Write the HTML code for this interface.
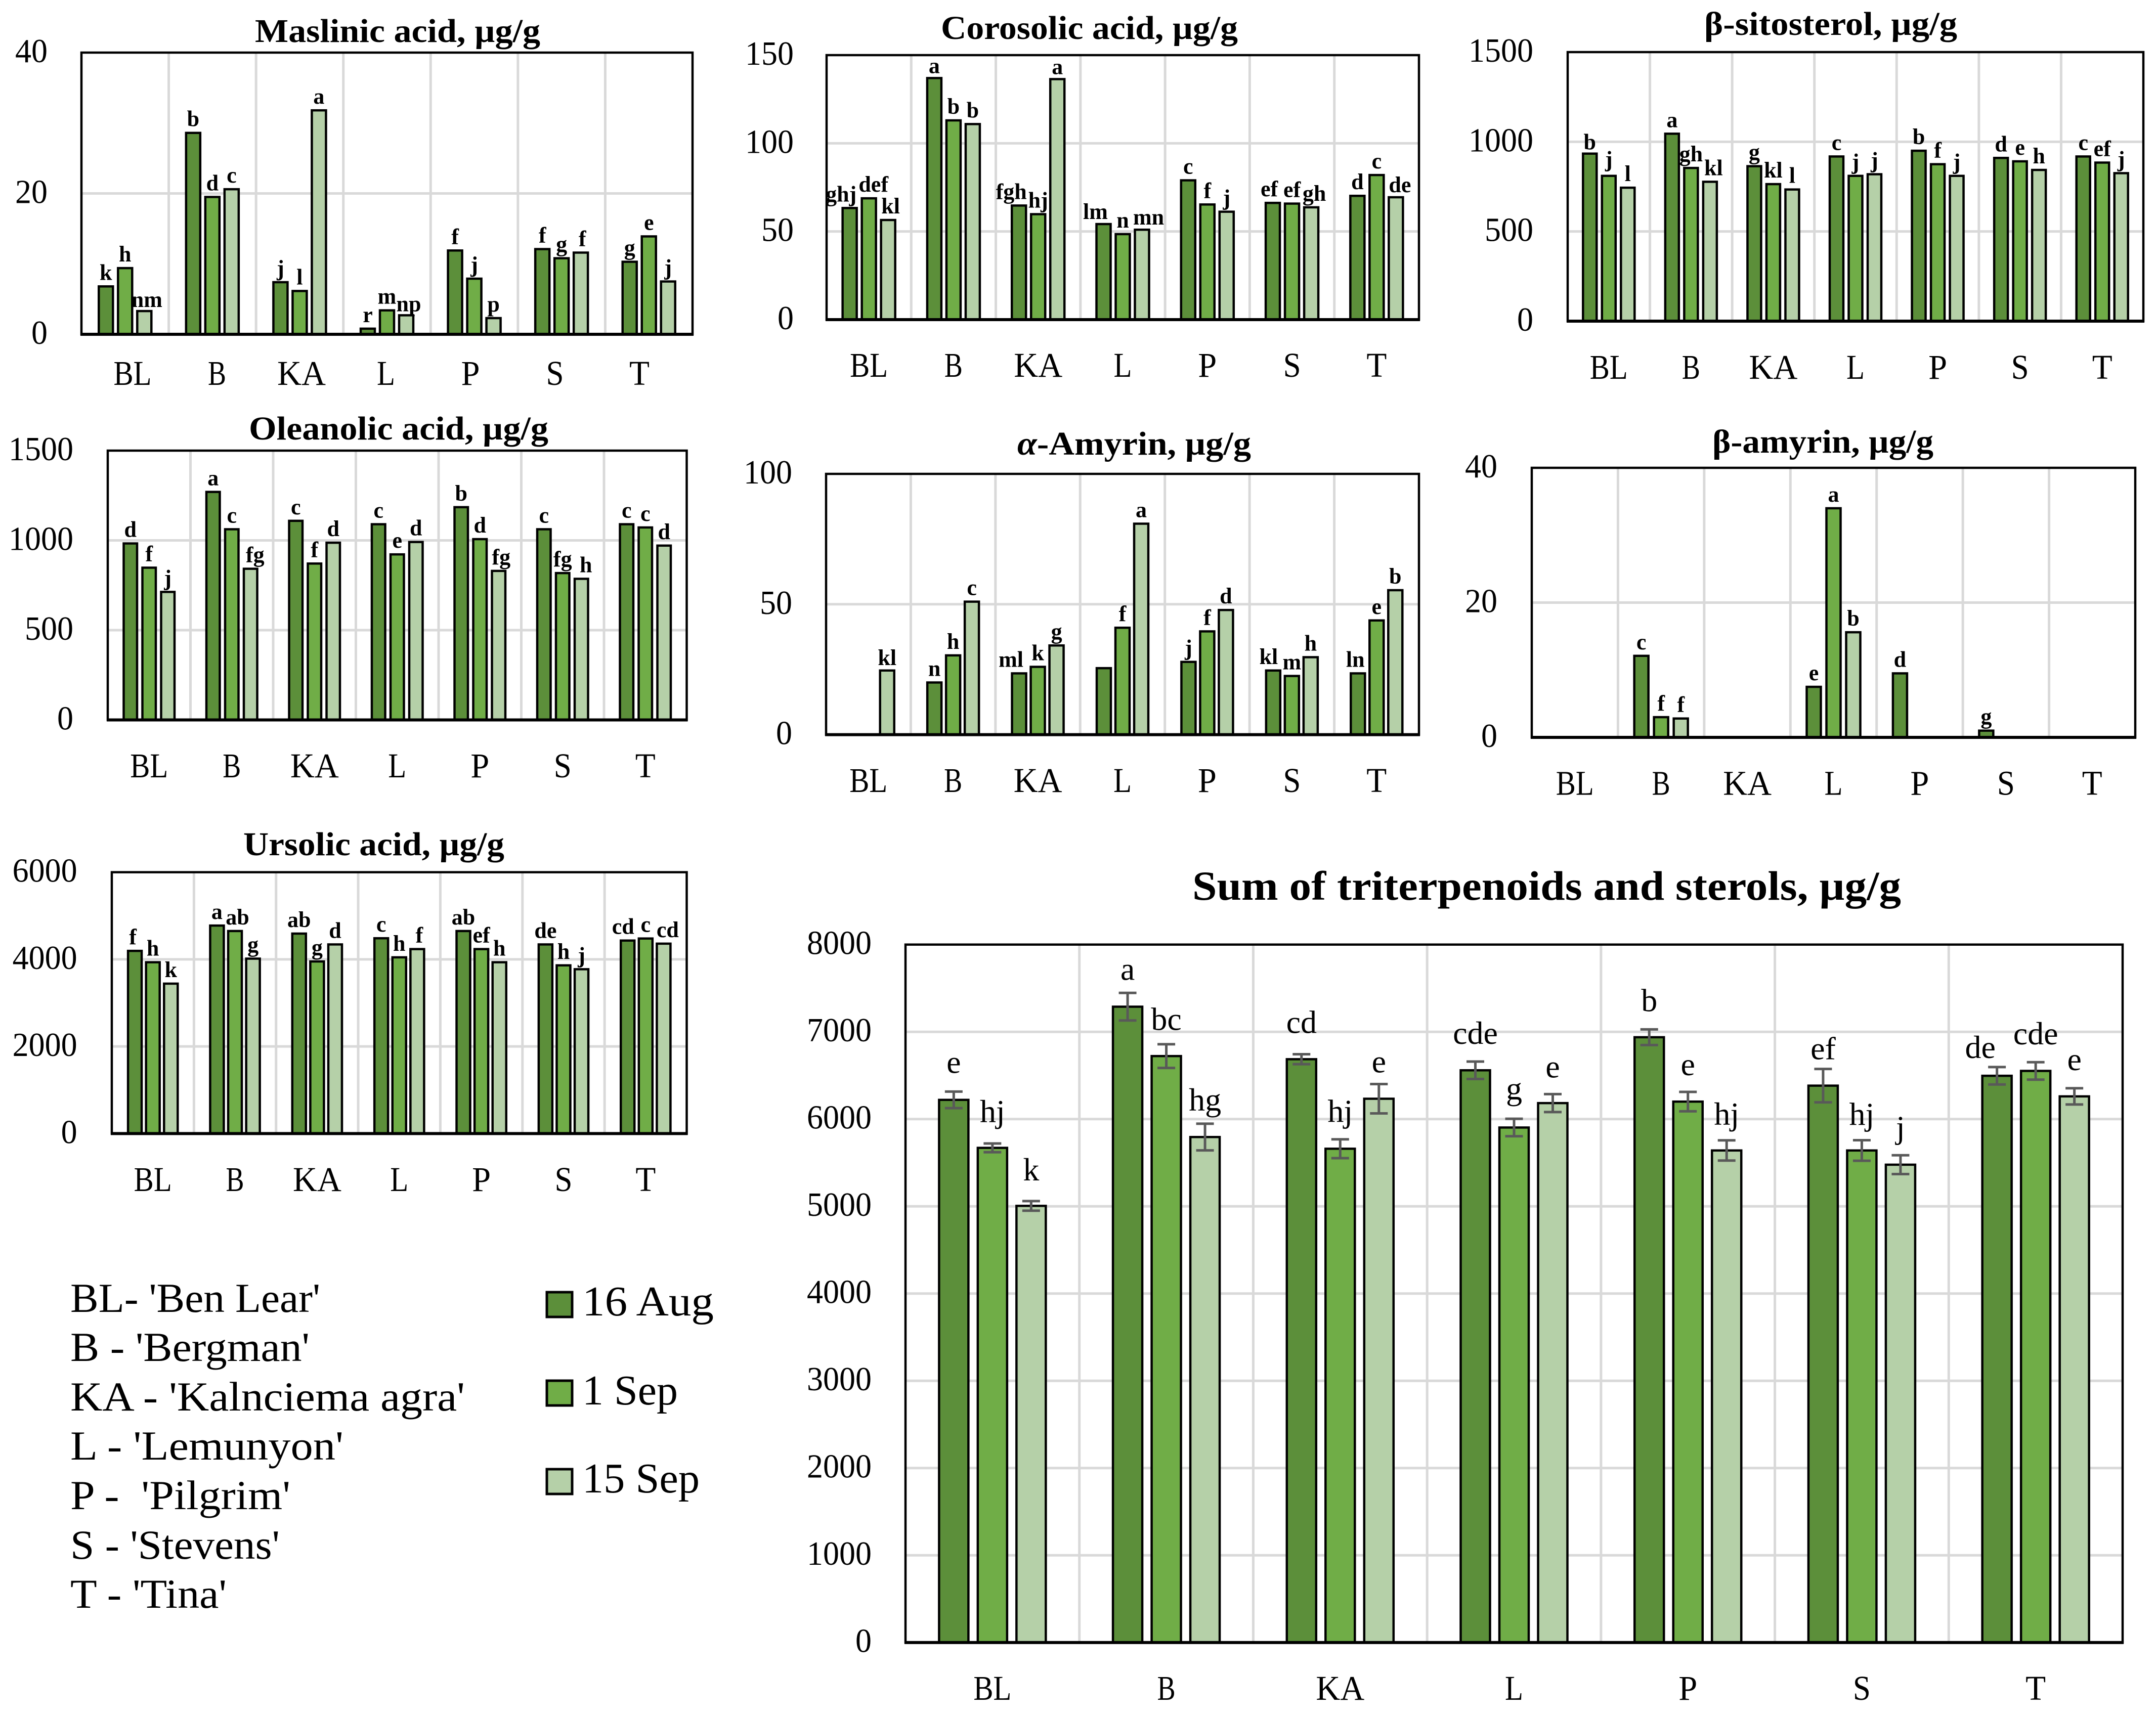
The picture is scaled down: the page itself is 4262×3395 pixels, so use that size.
<!DOCTYPE html>
<html lang="en">
<head>
<meta charset="utf-8">
<title>Triterpenoids and sterols</title>
<style>
html,body{margin:0;padding:0;background:#fff;}
svg{display:block;font-family:"Liberation Serif","Noto Serif CJK SC",serif;}
</style>
</head>
<body>
<svg id="figure" xmlns="http://www.w3.org/2000/svg" width="4262" height="3395" viewBox="0 0 4262 3395">
  <rect x="0" y="0" width="4262" height="3395" fill="#ffffff"/>
  <g id="charts"></g>
  <g font-size="82" fill="#000">
    <text x="139" y="2594" textLength="494" lengthAdjust="spacingAndGlyphs">BL- 'Ben Lear'</text>
    <text x="139" y="2691" textLength="473" lengthAdjust="spacingAndGlyphs">B - 'Bergman'</text>
    <text x="139" y="2789" textLength="780" lengthAdjust="spacingAndGlyphs">KA - 'Kalnciema agra'</text>
    <text x="139" y="2886" textLength="540" lengthAdjust="spacingAndGlyphs">L - 'Lemunyon'</text>
    <text x="139" y="2984" textLength="435" lengthAdjust="spacingAndGlyphs" xml:space="preserve">P -  'Pilgrim'</text>
    <text x="139" y="3082" textLength="414" lengthAdjust="spacingAndGlyphs">S - 'Stevens'</text>
    <text x="139" y="3179" textLength="309" lengthAdjust="spacingAndGlyphs">T - 'Tina'</text>
  </g>
  <g font-size="84" fill="#000">
    <rect x="1081" y="2555" width="50" height="49" fill="#5C8F3A" stroke="#000" stroke-width="5"/>
    <text x="1151" y="2601" textLength="260" lengthAdjust="spacingAndGlyphs">16 Aug</text>
    <rect x="1081" y="2730" width="50" height="49" fill="#70AD47" stroke="#000" stroke-width="5"/>
    <text x="1151" y="2777" textLength="189" lengthAdjust="spacingAndGlyphs">1 Sep</text>
    <rect x="1081" y="2905" width="50" height="49" fill="#B5D0A8" stroke="#000" stroke-width="5"/>
    <text x="1151" y="2951" textLength="232" lengthAdjust="spacingAndGlyphs">15 Sep</text>
  </g>
</svg>
<script>
const categories = ['BL','B','KA','L','P','S','T'];

const maslinicTicks = [0,20,40];
const maslinicAug = [6.8,28.6,7.4,0.8,11.9,12.1,10.3];
const maslinicSep1 = [9.4,19.5,6.15,3.4,7.9,10.8,13.9];
const maslinicSep15 = [3.3,20.6,31.8,2.7,2.3,11.6,7.5];
const maslinicLettersAug = ['k','b','j','r','f','f','g'];
const maslinicLettersSep1 = ['h','d','l','m','j','g','e'];
const maslinicLettersSep15 = ['nm','c','a','np','p','f','j'];

const corosolicTicks = [0,50,100,150];
const corosolicAug = [63.3,137,64.7,54.2,79,66.2,70.2];
const corosolicSep1 = [68.8,113,59.8,48.5,65.3,65.8,82];
const corosolicSep15 = [56.5,110.9,136.4,51,61.2,63.7,69.4];
const corosolicLettersAug = ['ghj','a','fgh','lm','c','ef','d'];
const corosolicLettersSep1 = ['def','b','hj','n','f','ef','c'];
const corosolicLettersSep15 = ['kl','b','a','mn','j','gh','de'];

const sitosterolTicks = [0,500,1000,1500];
const sitosterolAug = [934,1045,864,918,950,910,918];
const sitosterolSep1 = [810,854,764,810,875,891,884];
const sitosterolSep15 = [744,777,734,819,810,843,825];
const sitosterolLettersAug = ['b','a','g','c','b','d','c'];
const sitosterolLettersSep1 = ['j','gh','kl','j','f','e','ef'];
const sitosterolLettersSep15 = ['l','kl','l','j','j','h','j'];

const oleanolicTicks = [0,500,1000,1500];
const oleanolicAug = [983,1270,1109,1090,1185,1062,1090];
const oleanolicSep1 = [848,1062,871,922,1007,818,1072];
const oleanolicSep15 = [713,842,987,991,830,786,971];
const oleanolicLettersAug = ['d','a','c','c','b','c','c'];
const oleanolicLettersSep1 = ['f','c','f','e','d','fg','c'];
const oleanolicLettersSep15 = ['j','fg','d','d','fg','h','d'];

const alphaTicks = [0,50,100];
const alphaAug = [0,20,23.5,25.5,27.9,24.6,23.5];
const alphaSep1 = [0,30.4,26,41,39.6,22.5,43.8];
const alphaSep15 = [24.6,51,34.2,80.9,47.8,29.7,55.4];
const alphaLettersAug = ['','n','ml','','j','kl','ln'];
const alphaLettersSep1 = ['','h','k','f','f','m','e'];
const alphaLettersSep15 = ['kl','c','g','a','d','h','b'];

const betaTicks = [0,20,40];
const betaAug = [0,12.1,0,7.5,9.5,1,0];
const betaSep1 = [0,3,0,34,0,0,0];
const betaSep15 = [0,2.8,0,15.6,0,0,0];
const betaLettersAug = ['','c','','e','d','g',''];
const betaLettersSep1 = ['','f','','a','','',''];
const betaLettersSep15 = ['','f','','b','','',''];

const ursolicTicks = [0,2000,4000,6000];
const ursolicAug = [4194,4775,4591,4484,4650,4342,4431];
const ursolicSep1 = [3933,4650,3951,4046,4235,3862,4478];
const ursolicSep15 = [3442,4016,4342,4235,3933,3773,4360];
const ursolicLettersAug = ['f','a','ab','c','ab','de','cd'];
const ursolicLettersSep1 = ['h','ab','g','h','ef','h','c'];
const ursolicLettersSep15 = ['k','g','d','f','h','j','cd'];

const sumTicks = [0,1000,2000,3000,4000,5000,6000,7000,8000];
const sumAug = [6220,7288,6686,6559,6938,6383,6496];
const sumSep1 = [5670,6722,5660,5903,6200,5640,6552];
const sumSep15 = [5005,5794,6233,6183,5640,5477,6260];
const sumErrAug = [95,158,57,100,90,191,100];
const sumErrSep1 = [50,136,108,100,111,118,100];
const sumErrSep15 = [55,153,168,103,116,108,93];
const sumLettersAug = ['e','a','cd','cde','b','ef','de'];
const sumLettersSep1 = ['hj','bc','hj','g','e','hj','cde'];
const sumLettersSep15 = ['k','hg','e','e','hj','j','e'];

const seriesFills = ['#5C8F3A','#70AD47','#B5D0A8'];
const NS = 'http://www.w3.org/2000/svg';
const chartsRoot = document.getElementById('charts');

/* rendered ink widths of the category labels, layout only */
const categoryLabelInk = {BL:75,B:36,KA:96,L:36,P:37,S:35,T:40};

function make(tag, attrs, parent) {
  const node = document.createElementNS(NS, tag);
  for (const k in attrs) node.setAttribute(k, attrs[k]);
  parent.appendChild(node);
  return node;
}

const chartConfigs = [
  {id:'maslinic', pre:'', title:'Maslinic acid, µg/g', titleX:504, titleW:564, titleY:83,
   box:[161,1369,104,661], barW:28, pitch:38, axisMax:40, ticks:maslinicTicks,
   series:[maslinicAug,maslinicSep1,maslinicSep15],
   letters:[maslinicLettersAug,maslinicLettersSep1,maslinicLettersSep15],
   catBase:761, catStart:262, catStep:167, tickRight:94,
   nudges:{'0-2':[5,5],'3-2':[5,5],'5-2':[3,0]}},
  {id:'corosolic', pre:'', title:'Corosolic acid, µg/g', titleX:1860, titleW:587, titleY:77,
   box:[1634,2805,109,632], barW:28, pitch:38, axisMax:150, ticks:corosolicTicks,
   series:[corosolicAug,corosolicSep1,corosolicSep15],
   letters:[corosolicLettersAug,corosolicLettersSep1,corosolicLettersSep15],
   catBase:745, tickRight:1569,
   nudges:{'0-0':[-17,0],'0-1':[9,0],'0-2':[5,0],'1-0':[0,3],'2-2':[0,3],'2-0':[-15,0],'3-0':[-16,3],'3-2':[13,3],'5-0':[-7,0],'5-2':[6,0],'6-2':[8,3]}},
  {id:'sitosterol', pre:'', title:'β-sitosterol, µg/g', titleX:3369, titleW:500, titleY:69,
   box:[3099,4237,103,635], barW:27, pitch:37.5, axisMax:1500, ticks:sitosterolTicks,
   series:[sitosterolAug,sitosterolSep1,sitosterolSep15],
   letters:[sitosterolLettersAug,sitosterolLettersSep1,sitosterolLettersSep15],
   catBase:749, tickRight:3031,
   nudges:{'0-0':[0,5],'0-1':[0,-5],'1-2':[7,0]}},
  {id:'oleanolic', pre:'', title:'Oleanolic acid, µg/g', titleX:492, titleW:592, titleY:869,
   box:[213,1357.5,891,1423.5], barW:26.5, pitch:37, axisMax:1500, ticks:oleanolicTicks,
   series:[oleanolicAug,oleanolicSep1,oleanolicSep15],
   letters:[oleanolicLettersAug,oleanolicLettersSep1,oleanolicLettersSep15],
   catBase:1537, tickRight:145,
   nudges:{'1-2':[9,0],'4-2':[5,0],'5-2':[9,0]}},
  {id:'alpha-amyrin', pre:'α', title:'-Amyrin, µg/g', titleX:2011, titleW:462, titleY:899,
   box:[1633,2805,937,1452.6], barW:28, pitch:37, axisMax:100, ticks:alphaTicks,
   series:[alphaAug,alphaSep1,alphaSep15],
   letters:[alphaLettersAug,alphaLettersSep1,alphaLettersSep15],
   catBase:1566, tickRight:1566,
   nudges:{'0-2':[0,2],'2-0':[-16,0],'5-0':[-9,0],'6-0':[-5,0]}},
  {id:'beta-amyrin', pre:'', title:'β-amyrin, µg/g', titleX:3385, titleW:437, titleY:895,
   box:[3028,4221,925,1458], barW:28, pitch:39, axisMax:40, ticks:betaTicks,
   series:[betaAug,betaSep1,betaSep15],
   letters:[betaLettersAug,betaLettersSep1,betaLettersSep15],
   catBase:1571.5, tickRight:2960,
   nudges:{}},
  {id:'ursolic', pre:'', title:'Ursolic acid, µg/g', titleX:481, titleW:516, titleY:1691,
   box:[221,1357.5,1724.6,2241.4], barW:27, pitch:35.6, axisMax:6000, ticks:ursolicTicks,
   series:[ursolicAug,ursolicSep1,ursolicSep15],
   letters:[ursolicLettersAug,ursolicLettersSep1,ursolicLettersSep15],
   catBase:2355, tickRight:152.6,
   nudges:{'0-0':[-4,0],'1-1':[5,0],'3-2':[4,0],'6-0':[-9,0],'6-2':[8,0]}},
  {id:'sum', pre:'', title:'Sum of triterpenoids and sterols, µg/g', titleX:2357, titleW:1401, titleY:1779, titleSize:82,
   box:[1790,4196,1867.7,3247.7], barW:58, pitch:76.5, axisMax:8000, ticks:sumTicks,
   series:[sumAug,sumSep1,sumSep15], errors:[sumErrAug,sumErrSep1,sumErrSep15],
   letters:[sumLettersAug,sumLettersSep1,sumLettersSep15],
   catBase:3361, tickRight:1723, labelGap:34, labelSize:64, labelWeight:'normal',
   nudges:{'0-0':[0,-3],'0-1':[0,-8],'0-2':[0,-7],'1-0':[0,8],'1-1':[0,6],'1-2':[0,8],'2-0':[0,-8],'2-2':[0,11],
           '3-0':[0,-1],'3-1':[0,-4],'3-2':[0,1],'4-0':[0,-2],'4-1':[0,1],'4-2':[0,3],'5-0':[0,15],'5-1':[0,4],
           '6-0':[-33,16],'6-1':[0,-1],'6-2':[0,-2]}}
];

function drawChart(c) {
  const L = c.box[0], R = c.box[1], T = c.box[2], B = c.box[3];
  const band = (R - L) / categories.length;
  const xCenter = i => L + band * (i + 0.5);
  const yScale = v => B - (v / c.axisMax) * (B - T);

  const g = make('g', {}, chartsRoot);
  
  

  const title = make('text', {x:c.titleX, y:c.titleY, 'font-size':c.titleSize || 66, 'font-weight':'bold', fill:'#000',
    textLength:c.titleW, lengthAdjust:'spacingAndGlyphs'}, g);
  
  
  if (c.pre) {
    const it = make('tspan', {'font-style':'italic'}, title);
    it.textContent = c.pre;
    const rest = make('tspan', {}, title);
    rest.textContent = c.title;
  } else {
    title.textContent = c.title;
  }

  c.ticks.forEach(t => {
    const y = yScale(t);
    if (t > 0 && t < c.axisMax) {
      const gl = make('line', {x1:L, x2:R, y1:y, y2:y, stroke:'#D9D9D9', 'stroke-width':5}, g);
      
      
    }
    const lab = make('text', {x:c.tickRight, y:y + 19, 'font-size':67, 'text-anchor':'end', fill:'#000',
      textLength:String(t).length * 32, lengthAdjust:'spacingAndGlyphs'}, g);
    
    
    lab.textContent = t;
  });

  for (let i = 1; i < categories.length; i++) {
    const x = L + band * i;
    const vg = make('line', {x1:x, x2:x, y1:T, y2:B, stroke:'#D9D9D9', 'stroke-width':5}, g);
    
    
  }

  categories.forEach((cat, i) => {
    const cx = c.catStart !== undefined ? c.catStart + c.catStep * i : xCenter(i);
    const lab = make('text', {x:cx, y:c.catBase, 'font-size':69, 'text-anchor':'middle', fill:'#000',
      textLength:categoryLabelInk[cat], lengthAdjust:'spacingAndGlyphs'}, g);
    
    
    lab.textContent = cat;
  });

  c.series.forEach((values, s) => {
    values.forEach((v, i) => {
      if (!(v > 0)) return;
      const cx = xCenter(i) + (s - 1) * c.pitch;
      const y = yScale(v);
      const bar = make('rect', {x:cx - c.barW / 2, y:y, width:c.barW, height:B - y,
        fill:seriesFills[s], stroke:'#000', 'stroke-width':4.5}, g);
      
      
    });
  });

  let errTops = null;
  if (c.errors) {
    errTops = c.errors.map(() => []);
    c.errors.forEach((errs, s) => {
      errs.forEach((e, i) => {
        const v = c.series[s][i];
        const cx = xCenter(i) + (s - 1) * c.pitch;
        const yHi = yScale(v + e), yLo = yScale(v - e);
        errTops[s][i] = yHi;
        const cap = 17.5;
        const path = 'M' + (cx - cap) + ' ' + yHi + 'H' + (cx + cap) + 'M' + cx + ' ' + yHi + 'V' + yLo + 'M' + (cx - cap) + ' ' + yLo + 'H' + (cx + cap);
        const eb = make('path', {d:path, fill:'none', stroke:'#595959', 'stroke-width':5}, g);
        
        
      });
    });
  }

  const frame = make('rect', {x:L, y:T, width:R - L, height:B - T, fill:'none', stroke:'#000', 'stroke-width':4.5}, g);
  
  
  const axis = make('line', {x1:L - 2, x2:R + 2, y1:B, y2:B, stroke:'#000', 'stroke-width':6}, g);
  
  

  c.letters.forEach((row, s) => {
    row.forEach((txt, i) => {
      if (!txt) return;
      const n = c.nudges[i + '-' + s] || [0, 0];
      const cx = xCenter(i) + (s - 1) * c.pitch + n[0];
      const top = errTops ? errTops[s][i] : yScale(c.series[s][i]);
      const y = top - (c.labelGap || 13) + n[1];
      const lab = make('text', {x:cx, y:y, 'font-size':c.labelSize || 44, 'font-weight':c.labelWeight || 'bold',
        'text-anchor':'middle', fill:'#000'}, g);
      
      
      lab.textContent = txt;
    });
  });
}

chartConfigs.forEach(drawChart);
</script>
</body>
</html>
